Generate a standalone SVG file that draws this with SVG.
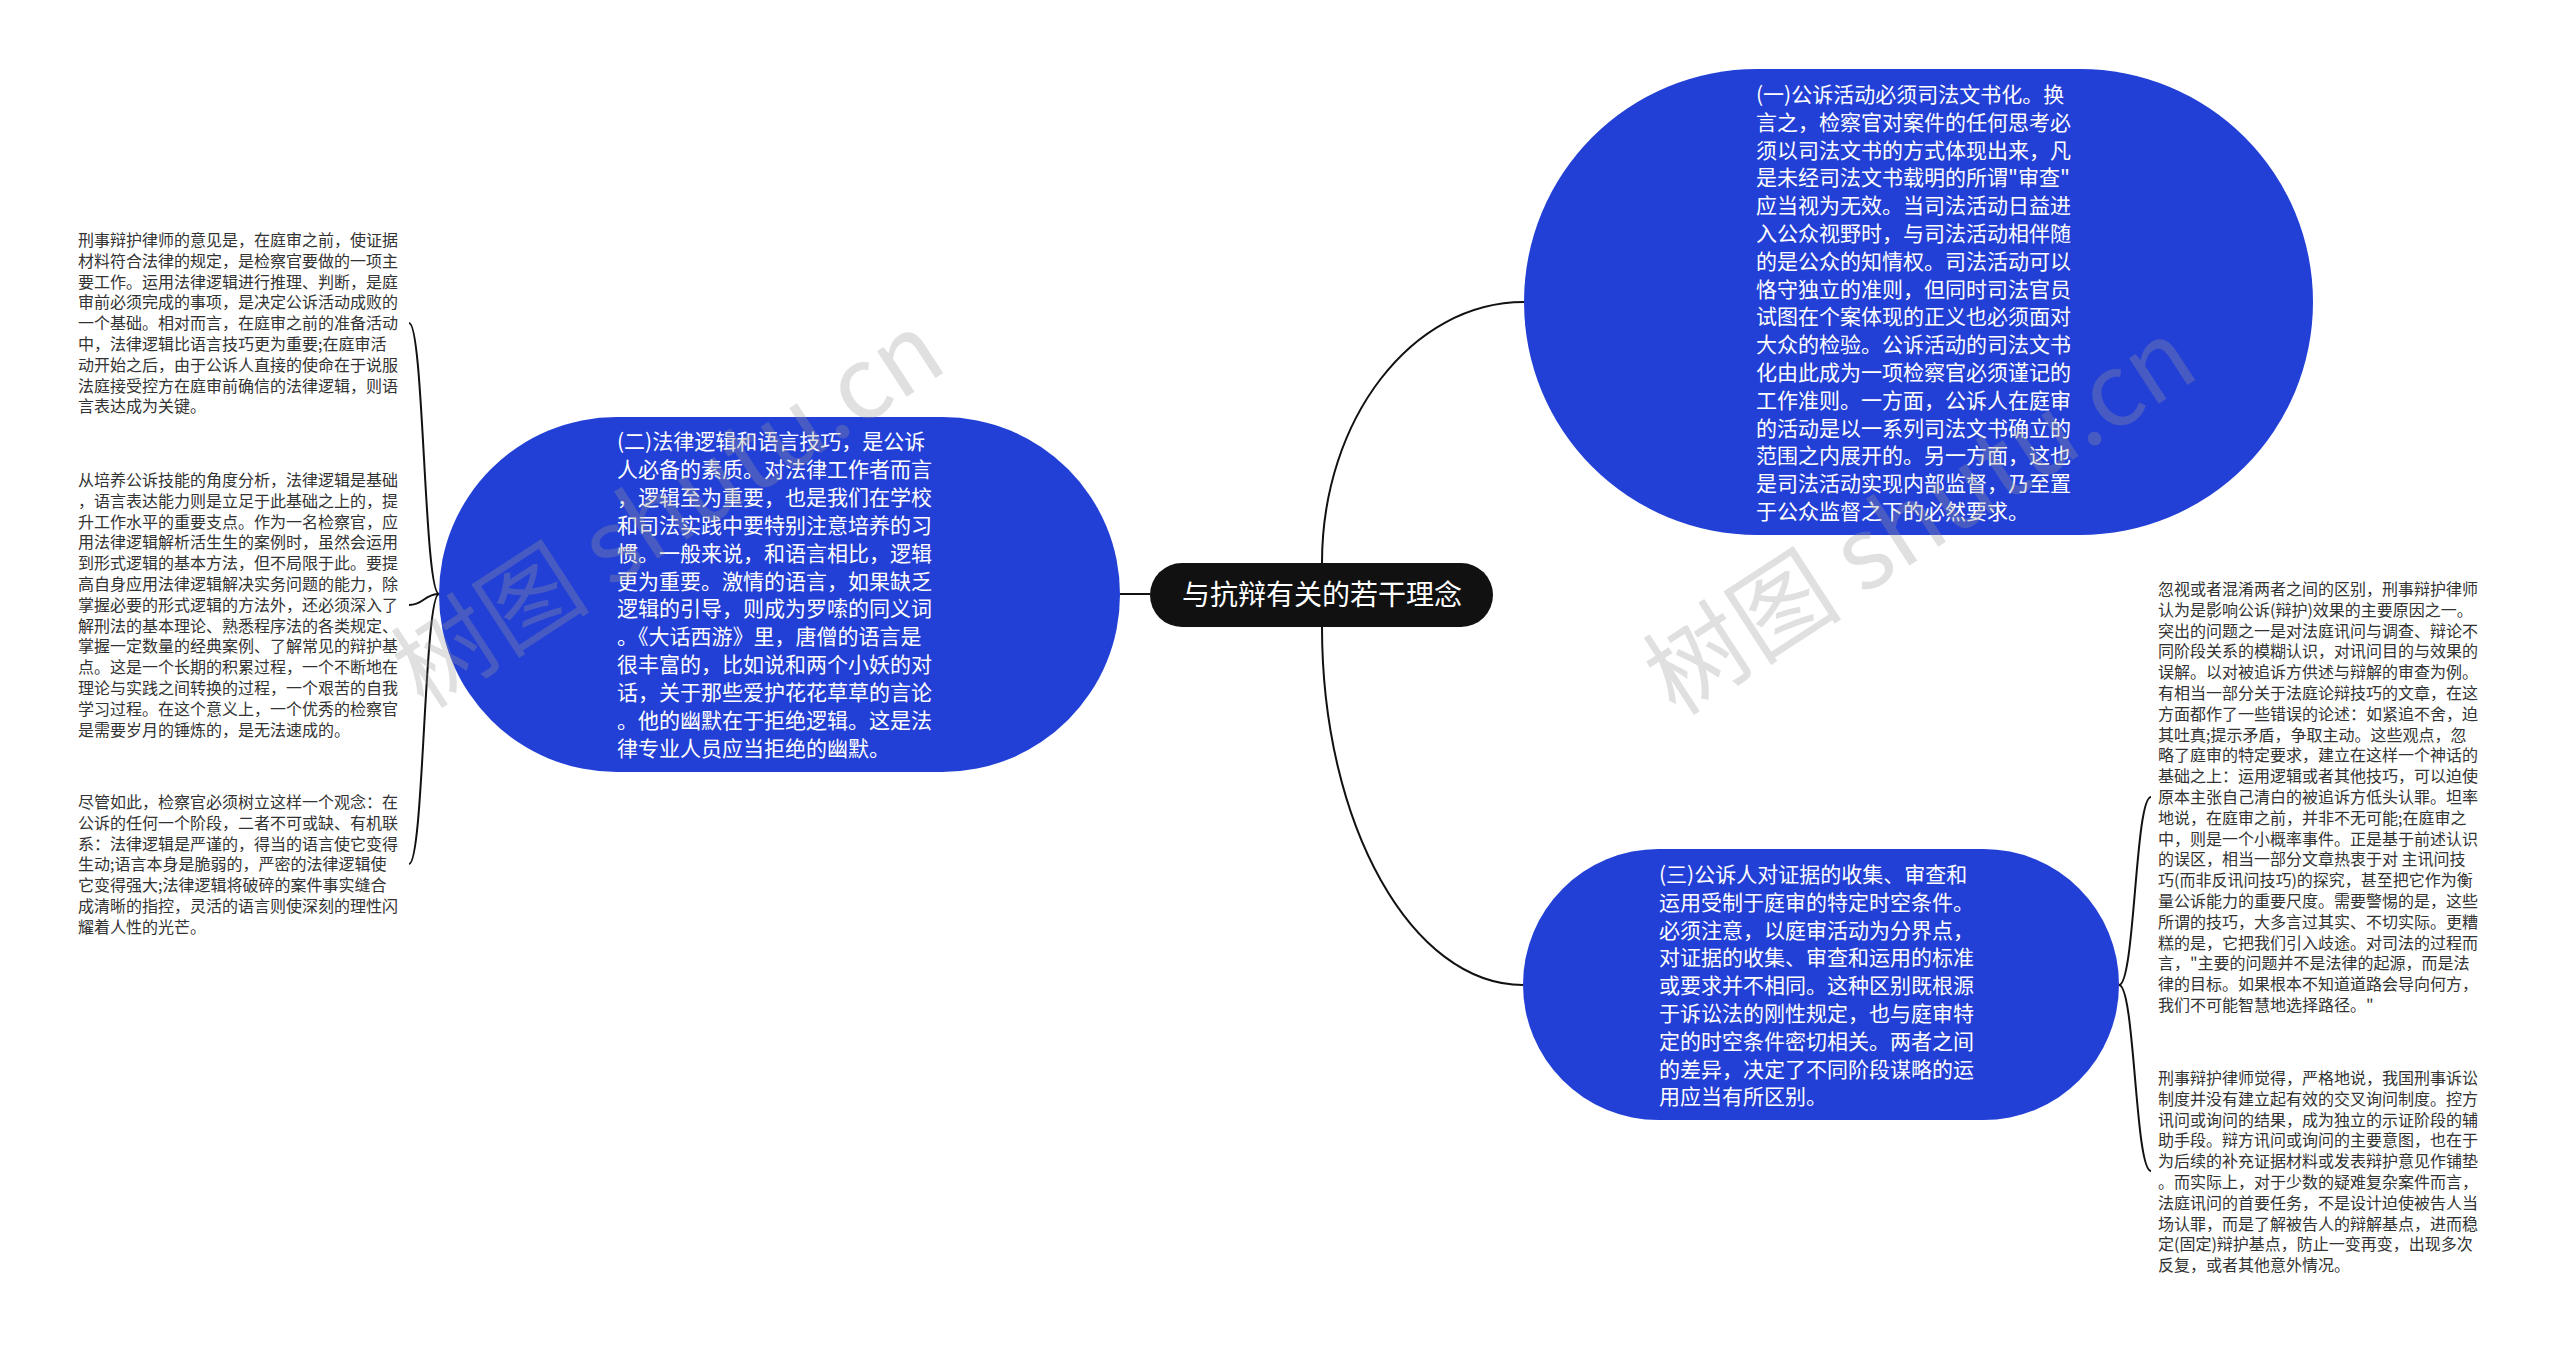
<svg xmlns="http://www.w3.org/2000/svg" width="2560" height="1354" viewBox="0 0 2560 1354">
<style>
.bg{fill:#ffffff}
.blue{fill:#2340d6}
.root{fill:#111111}
.link{fill:none;stroke:#111111;stroke-width:2}
.nt{font-family:"Noto Sans CJK SC","Noto Sans",sans-serif;font-size:21px;fill:#ffffff}
.rt{font-family:"Noto Sans CJK SC","Noto Sans",sans-serif;font-size:28px;fill:#ffffff}
.st{font-family:"Noto Sans CJK SC","Noto Sans",sans-serif;font-size:16px;fill:#333333}
.wm{font-family:"Noto Sans CJK SC","Noto Sans",sans-serif;font-size:100px;fill:#9a9a9a;opacity:0.3}
</style>
<rect class="bg" x="0" y="0" width="2560" height="1354"/>
<g id="connectors">
<path class="link" d="M1120,594 L1150,594"/>
<path class="link" d="M1322,563 C1322,419 1412,302 1524,302"/>
<path class="link" d="M1322,627 C1322,825 1412,985 1523,985"/>
<path class="link" d="M439,594 C424,594 424,323 409,323"/>
<path class="link" d="M439,594 C424,594 424,605 409,605"/>
<path class="link" d="M439,594 C424,594 424,864 409,864"/>
<path class="link" d="M2119,985 C2135,985 2135,797 2151,797"/>
<path class="link" d="M2119,985 C2135,985 2135,1171 2151,1171"/>
</g>
<g id="root">
<rect class="root" x="1150" y="563" width="343" height="64" rx="32"/>
<text class="rt" x="1322" y="605" text-anchor="middle">与抗辩有关的若干理念</text>
</g>
<g id="node1">
<rect class="blue" x="1524" y="69" width="789" height="466" rx="233"/>
<text class="nt" x="1756">
<tspan x="1756" y="102">(一)公诉活动必须司法文书化。换</tspan>
<tspan x="1756" y="129.8">言之，检察官对案件的任何思考必</tspan>
<tspan x="1756" y="157.6">须以司法文书的方式体现出来，凡</tspan>
<tspan x="1756" y="185.4">是未经司法文书载明的所谓"审查"</tspan>
<tspan x="1756" y="213.2">应当视为无效。当司法活动日益进</tspan>
<tspan x="1756" y="241">入公众视野时，与司法活动相伴随</tspan>
<tspan x="1756" y="268.8">的是公众的知情权。司法活动可以</tspan>
<tspan x="1756" y="296.6">恪守独立的准则，但同时司法官员</tspan>
<tspan x="1756" y="324.4">试图在个案体现的正义也必须面对</tspan>
<tspan x="1756" y="352.2">大众的检验。公诉活动的司法文书</tspan>
<tspan x="1756" y="380">化由此成为一项检察官必须谨记的</tspan>
<tspan x="1756" y="407.8">工作准则。一方面，公诉人在庭审</tspan>
<tspan x="1756" y="435.6">的活动是以一系列司法文书确立的</tspan>
<tspan x="1756" y="463.4">范围之内展开的。另一方面，这也</tspan>
<tspan x="1756" y="491.2">是司法活动实现内部监督，乃至置</tspan>
<tspan x="1756" y="519">于公众监督之下的必然要求。</tspan>
</text>
</g>
<g id="node2">
<rect class="blue" x="439" y="417" width="681" height="355" rx="177.5"/>
<text class="nt" x="617">
<tspan x="617" y="449">(二)法律逻辑和语言技巧，是公诉</tspan>
<tspan x="617" y="476.9">人必备的素质。对法律工作者而言</tspan>
<tspan x="617" y="504.8">，逻辑至为重要，也是我们在学校</tspan>
<tspan x="617" y="532.7">和司法实践中要特别注意培养的习</tspan>
<tspan x="617" y="560.6">惯。一般来说，和语言相比，逻辑</tspan>
<tspan x="617" y="588.5">更为重要。激情的语言，如果缺乏</tspan>
<tspan x="617" y="616.4">逻辑的引导，则成为罗嗦的同义词</tspan>
<tspan x="617" y="644.3">。《大话西游》里，唐僧的语言是</tspan>
<tspan x="617" y="672.2">很丰富的，比如说和两个小妖的对</tspan>
<tspan x="617" y="700.1">话，关于那些爱护花花草草的言论</tspan>
<tspan x="617" y="728">。他的幽默在于拒绝逻辑。这是法</tspan>
<tspan x="617" y="755.9">律专业人员应当拒绝的幽默。</tspan>
</text>
</g>
<g id="node3">
<rect class="blue" x="1523" y="849" width="596" height="271" rx="135.5"/>
<text class="nt" x="1659">
<tspan x="1659" y="882">(三)公诉人对证据的收集、审查和</tspan>
<tspan x="1659" y="909.8">运用受制于庭审的特定时空条件。</tspan>
<tspan x="1659" y="937.6">必须注意，以庭审活动为分界点，</tspan>
<tspan x="1659" y="965.4">对证据的收集、审查和运用的标准</tspan>
<tspan x="1659" y="993.2">或要求并不相同。这种区别既根源</tspan>
<tspan x="1659" y="1021">于诉讼法的刚性规定，也与庭审特</tspan>
<tspan x="1659" y="1048.8">定的时空条件密切相关。两者之间</tspan>
<tspan x="1659" y="1076.6">的差异，决定了不同阶段谋略的运</tspan>
<tspan x="1659" y="1104.4">用应当有所区别。</tspan>
</text>
</g>
<g id="leaf-l1">
<text class="st" x="78">
<tspan x="78" y="246">刑事辩护律师的意见是，在庭审之前，使证据</tspan>
<tspan x="78" y="266.8">材料符合法律的规定，是检察官要做的一项主</tspan>
<tspan x="78" y="287.6">要工作。运用法律逻辑进行推理、判断，是庭</tspan>
<tspan x="78" y="308.4">审前必须完成的事项，是决定公诉活动成败的</tspan>
<tspan x="78" y="329.2">一个基础。相对而言，在庭审之前的准备活动</tspan>
<tspan x="78" y="350">中，法律逻辑比语言技巧更为重要;在庭审活</tspan>
<tspan x="78" y="370.8">动开始之后，由于公诉人直接的使命在于说服</tspan>
<tspan x="78" y="391.6">法庭接受控方在庭审前确信的法律逻辑，则语</tspan>
<tspan x="78" y="412.4">言表达成为关键。</tspan>
</text>
</g>
<g id="leaf-l2">
<text class="st" x="78">
<tspan x="78" y="486">从培养公诉技能的角度分析，法律逻辑是基础</tspan>
<tspan x="78" y="506.8">，语言表达能力则是立足于此基础之上的，提</tspan>
<tspan x="78" y="527.6">升工作水平的重要支点。作为一名检察官，应</tspan>
<tspan x="78" y="548.4">用法律逻辑解析活生生的案例时，虽然会运用</tspan>
<tspan x="78" y="569.2">到形式逻辑的基本方法，但不局限于此。要提</tspan>
<tspan x="78" y="590">高自身应用法律逻辑解决实务问题的能力，除</tspan>
<tspan x="78" y="610.8">掌握必要的形式逻辑的方法外，还必须深入了</tspan>
<tspan x="78" y="631.6">解刑法的基本理论、熟悉程序法的各类规定、</tspan>
<tspan x="78" y="652.4">掌握一定数量的经典案例、了解常见的辩护基</tspan>
<tspan x="78" y="673.2">点。这是一个长期的积累过程，一个不断地在</tspan>
<tspan x="78" y="694">理论与实践之间转换的过程，一个艰苦的自我</tspan>
<tspan x="78" y="714.8">学习过程。在这个意义上，一个优秀的检察官</tspan>
<tspan x="78" y="735.6">是需要岁月的锤炼的，是无法速成的。</tspan>
</text>
</g>
<g id="leaf-l3">
<text class="st" x="78">
<tspan x="78" y="808">尽管如此，检察官必须树立这样一个观念：在</tspan>
<tspan x="78" y="828.8">公诉的任何一个阶段，二者不可或缺、有机联</tspan>
<tspan x="78" y="849.6">系：法律逻辑是严谨的，得当的语言使它变得</tspan>
<tspan x="78" y="870.4">生动;语言本身是脆弱的，严密的法律逻辑使</tspan>
<tspan x="78" y="891.2">它变得强大;法律逻辑将破碎的案件事实缝合</tspan>
<tspan x="78" y="912">成清晰的指控，灵活的语言则使深刻的理性闪</tspan>
<tspan x="78" y="932.8">耀着人性的光芒。</tspan>
</text>
</g>
<g id="leaf-r1">
<text class="st" x="2158">
<tspan x="2158" y="595">忽视或者混淆两者之间的区别，刑事辩护律师</tspan>
<tspan x="2158" y="615.8">认为是影响公诉(辩护)效果的主要原因之一。</tspan>
<tspan x="2158" y="636.6">突出的问题之一是对法庭讯问与调查、辩论不</tspan>
<tspan x="2158" y="657.4">同阶段关系的模糊认识，对讯问目的与效果的</tspan>
<tspan x="2158" y="678.2">误解。以对被追诉方供述与辩解的审查为例。</tspan>
<tspan x="2158" y="699">有相当一部分关于法庭论辩技巧的文章，在这</tspan>
<tspan x="2158" y="719.8">方面都作了一些错误的论述：如紧追不舍，迫</tspan>
<tspan x="2158" y="740.6">其吐真;提示矛盾，争取主动。这些观点，忽</tspan>
<tspan x="2158" y="761.4">略了庭审的特定要求，建立在这样一个神话的</tspan>
<tspan x="2158" y="782.2">基础之上：运用逻辑或者其他技巧，可以迫使</tspan>
<tspan x="2158" y="803">原本主张自己清白的被追诉方低头认罪。坦率</tspan>
<tspan x="2158" y="823.8">地说，在庭审之前，并非不无可能;在庭审之</tspan>
<tspan x="2158" y="844.6">中，则是一个小概率事件。正是基于前述认识</tspan>
<tspan x="2158" y="865.4">的误区，相当一部分文章热衷于对 主讯问技</tspan>
<tspan x="2158" y="886.2">巧(而非反讯问技巧)的探究，甚至把它作为衡</tspan>
<tspan x="2158" y="907">量公诉能力的重要尺度。需要警惕的是，这些</tspan>
<tspan x="2158" y="927.8">所谓的技巧，大多言过其实、不切实际。更糟</tspan>
<tspan x="2158" y="948.6">糕的是，它把我们引入歧途。对司法的过程而</tspan>
<tspan x="2158" y="969.4">言，"主要的问题并不是法律的起源，而是法</tspan>
<tspan x="2158" y="990.2">律的目标。如果根本不知道道路会导向何方，</tspan>
<tspan x="2158" y="1011">我们不可能智慧地选择路径。"</tspan>
</text>
</g>
<g id="leaf-r2">
<text class="st" x="2158">
<tspan x="2158" y="1084">刑事辩护律师觉得，严格地说，我国刑事诉讼</tspan>
<tspan x="2158" y="1104.8">制度并没有建立起有效的交叉询问制度。控方</tspan>
<tspan x="2158" y="1125.6">讯问或询问的结果，成为独立的示证阶段的辅</tspan>
<tspan x="2158" y="1146.4">助手段。辩方讯问或询问的主要意图，也在于</tspan>
<tspan x="2158" y="1167.2">为后续的补充证据材料或发表辩护意见作铺垫</tspan>
<tspan x="2158" y="1188">。而实际上，对于少数的疑难复杂案件而言，</tspan>
<tspan x="2158" y="1208.8">法庭讯问的首要任务，不是设计迫使被告人当</tspan>
<tspan x="2158" y="1229.6">场认罪，而是了解被告人的辩解基点，进而稳</tspan>
<tspan x="2158" y="1250.4">定(固定)辩护基点，防止一变再变，出现多次</tspan>
<tspan x="2158" y="1271.2">反复，或者其他意外情况。</tspan>
</text>
</g>
<g id="watermarks">
<text class="wm" x="668" y="545" text-anchor="middle" transform="rotate(-33 668 510)">树图 shutu.cn</text>
<text class="wm" x="1920" y="552" text-anchor="middle" transform="rotate(-33 1920 517)">树图 shutu.cn</text>
</g>
</svg>
